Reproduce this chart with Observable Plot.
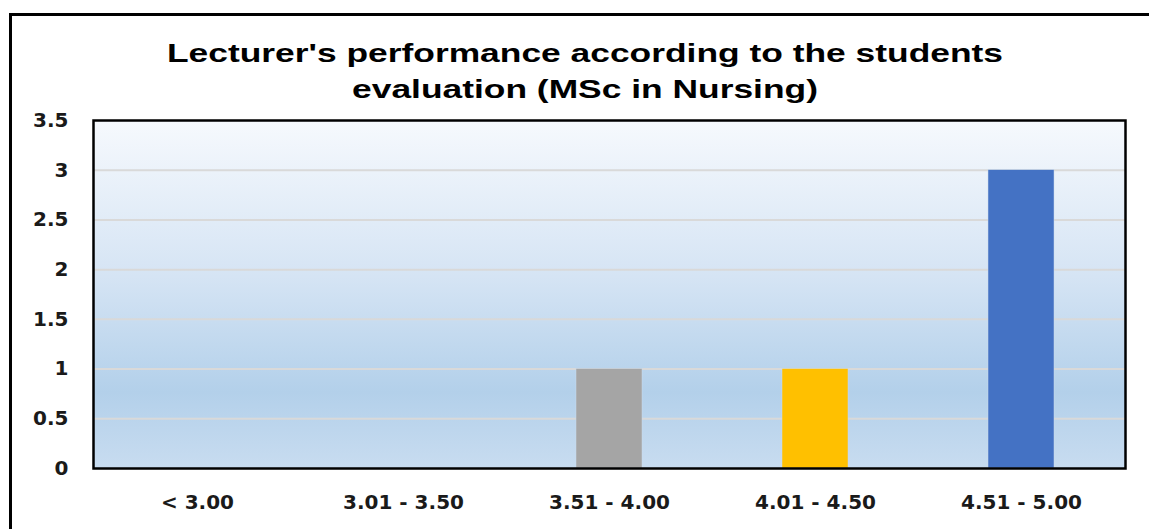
<!DOCTYPE html>
<html>
<head>
<meta charset="utf-8">
<script src="https://cdn.jsdelivr.net/npm/d3@7"></script>
<script src="https://cdn.jsdelivr.net/npm/@observablehq/plot@0.6"></script>
<style>
  html, body { margin: 0; padding: 0; background: #fff; }
  #wrap { position: relative; width: 1149px; height: 529px; overflow: hidden; font-family: "Liberation Sans", Arial, sans-serif; }
  #border { position: absolute; left: 9px; top: 13px; width: 1200px; height: 600px; border-left: 3px solid #000; border-top: 3px solid #000; box-sizing: border-box; }
  #title { position: absolute; left: 585px; top: 35px; white-space: nowrap; text-align: center; font-weight: bold; font-size: 26.5px; line-height: 36px; color: #000; transform: translateX(-50%) scaleX(1.335); transform-origin: center top; }
  #chart { position: absolute; left: 0; top: 0; }
  #chart svg g[aria-label$="tick label"] text { font-family: "DejaVu Sans", Verdana, sans-serif; font-size: 20px; font-weight: bold; fill: #1a1a1a; }
</style>
</head>
<body>
<div id="wrap">
  <div id="border"></div>
  <div id="chart"></div>
  <div id="title">Lecturer's performance according to the students<br>evaluation (MSc in Nursing)</div>
</div>
<script>
const categories = ["< 3.00", "3.01 - 3.50", "3.51 - 4.00", "4.01 - 4.50", "4.51 - 5.00"];
const counts = [0, 0, 1, 1, 3];
const barColors = ["#a5a5a5", "#a5a5a5", "#a5a5a5", "#ffc000", "#4472c4"];
const yTicks = [0, 0.5, 1, 1.5, 2, 2.5, 3, 3.5];

const data = categories.map((c, i) => ({category: c, count: counts[i], color: barColors[i]}));

const plot = Plot.plot({
  width: 1149,
  height: 529,
  marginLeft: 93,
  marginRight: 24,
  marginTop: 120,
  marginBottom: 61,
  style: {fontFamily: "'DejaVu Sans', Verdana, sans-serif", fontSize: "20px", fontWeight: "bold", color: "#1a1a1a", background: "transparent"},
  x: {domain: categories, paddingInner: 0.68, paddingOuter: 0.34, label: null},
  y: {domain: [0, 3.5], ticks: yTicks, label: null},
  marks: [
    Plot.frame({fill: "url(#bgGrad)", stroke: "none"}),
    Plot.ruleY(yTicks.filter(d => d > 0 && d < 3.5), {stroke: "#d9d9d9", strokeWidth: 2}),
    Plot.barY(data.filter(d => d.count > 0), {x: "category", y: "count", fill: "color", stroke: "#c9d9ea", strokeWidth: 0.5}),
    Plot.frame({stroke: "#000", strokeWidth: 2.5}),
    Plot.axisY({ticks: yTicks, tickSize: 0, tickPadding: 25, tickFormat: d => String(d), fontWeight: "bold", fontSize: 20}),
    Plot.axisX({tickSize: 0, tickPadding: 26, fontWeight: "bold", fontSize: 20})
  ]
});

const ns = "http://www.w3.org/2000/svg";
const defs = document.createElementNS(ns, "defs");
const grad = document.createElementNS(ns, "linearGradient");
grad.setAttribute("id", "bgGrad");
grad.setAttribute("x1", "0"); grad.setAttribute("y1", "0");
grad.setAttribute("x2", "0"); grad.setAttribute("y2", "1");
[["0", "#f6f9fd"], ["0.45", "#d5e4f4"], ["0.78", "#b3d0ea"], ["1", "#c8dcf0"]].forEach(([o, c]) => {
  const s = document.createElementNS(ns, "stop");
  s.setAttribute("offset", o);
  s.setAttribute("stop-color", c);
  grad.appendChild(s);
});
defs.appendChild(grad);
plot.insertBefore(defs, plot.firstChild);
document.getElementById("chart").appendChild(plot);
</script>
</body>
</html>
